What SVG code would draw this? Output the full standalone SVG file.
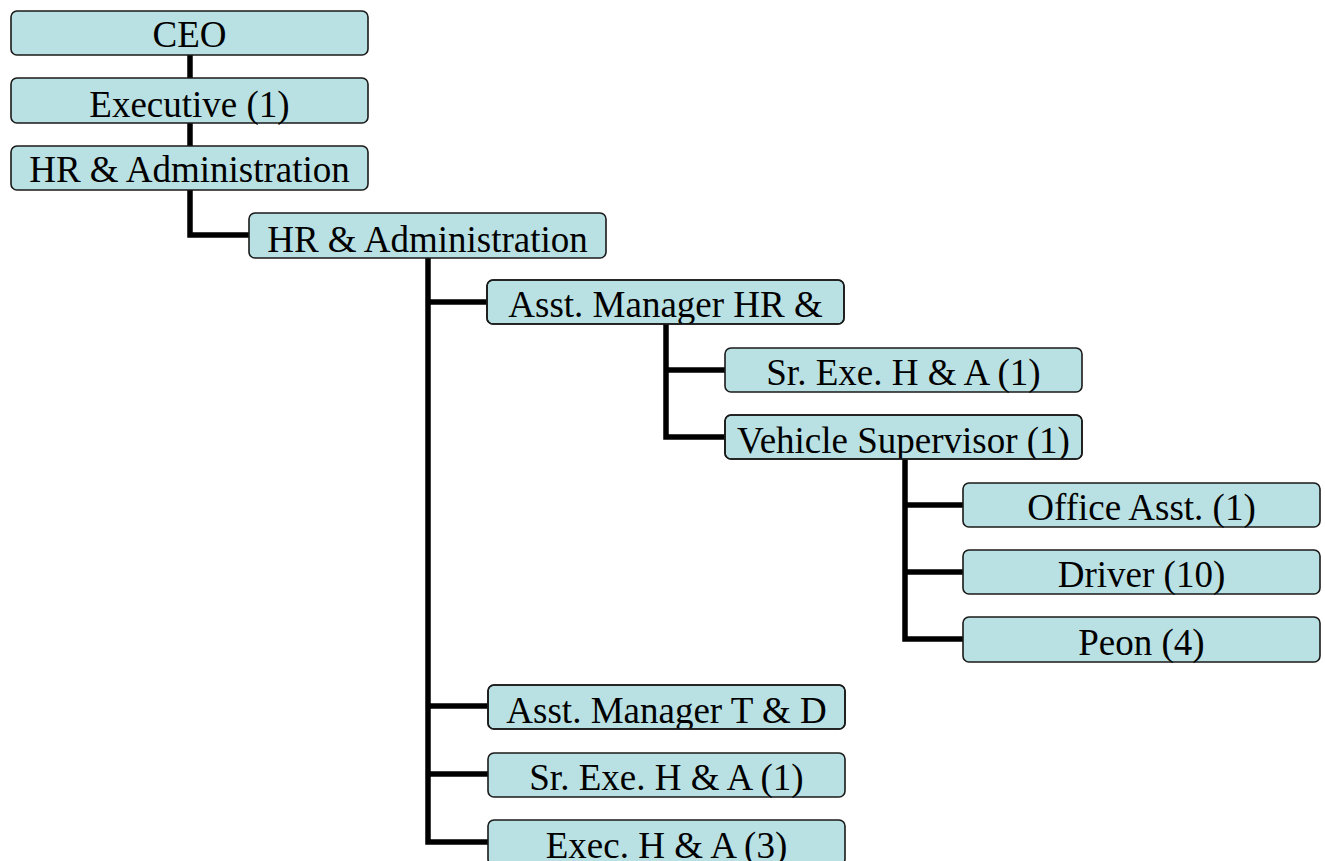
<svg xmlns="http://www.w3.org/2000/svg" width="1325" height="861" viewBox="0 0 1325 861">
<style>
.box{fill:#B9E0E3;stroke:#1a1a1a;stroke-width:1.6}
.lbl{font-family:"Liberation Serif","Times New Roman",serif;font-size:37px;fill:#000;text-anchor:middle}
.conn{fill:none;stroke:#000;stroke-width:5.5;stroke-linejoin:miter;stroke-linecap:butt}
</style>
<defs>
<clipPath id="c1"><rect x="487" y="280" width="357" height="44" rx="6"/></clipPath>
<clipPath id="c2"><rect x="725" y="415" width="357" height="44" rx="6"/></clipPath>
<clipPath id="c3"><rect x="488" y="685" width="357" height="44" rx="6"/></clipPath>
</defs>
<rect width="1325" height="861" fill="#fff"/>
<g id="connectors">
<path class="conn" d="M190 55V78"/>
<path class="conn" d="M190 123V146"/>
<path class="conn" d="M190 190V235H249"/>
<path class="conn" d="M428 257V842H488"/>
<path class="conn" d="M428 302H487"/>
<path class="conn" d="M428 706H488"/>
<path class="conn" d="M428 774H488"/>
<path class="conn" d="M666 324V437H725"/>
<path class="conn" d="M666 370H725"/>
<path class="conn" d="M905 459V639H963"/>
<path class="conn" d="M905 505H963"/>
<path class="conn" d="M905 572H963"/>
</g>
<g id="n-ceo"><rect class="box" x="11" y="11" width="357" height="44" rx="6"/><text class="lbl" x="189.5" y="47">CEO</text></g>
<g id="n-exec"><rect class="box" x="11" y="78" width="357" height="45" rx="6"/><text class="lbl" x="189.5" y="117">Executive (1)</text></g>
<g id="n-hr1"><rect class="box" x="11" y="146" width="357" height="44" rx="6"/><text class="lbl" x="189.5" y="182">HR &amp; Administration</text></g>
<g id="n-hr2"><rect class="box" x="249" y="213" width="357" height="45" rx="6"/><text class="lbl" x="427.5" y="252">HR &amp; Administration</text></g>
<g id="n-asst-hr"><rect class="box" x="487" y="280" width="357" height="44" rx="6"/><text class="lbl" x="665.5" y="317" clip-path="url(#c1)">Asst. Manager HR &amp;</text><rect x="487" y="280" width="357" height="44" rx="6" fill="none" stroke="#1a1a1a" stroke-width="1.6"/></g>
<g id="n-srexe-a"><rect class="box" x="725" y="348" width="357" height="44" rx="6"/><text class="lbl" x="903.5" y="385">Sr. Exe. H &amp; A (1)</text></g>
<g id="n-vehicle"><rect class="box" x="725" y="415" width="357" height="44" rx="6"/><text class="lbl" x="903.5" y="453" clip-path="url(#c2)">Vehicle Supervisor (1)</text><rect x="725" y="415" width="357" height="44" rx="6" fill="none" stroke="#1a1a1a" stroke-width="1.6"/></g>
<g id="n-office"><rect class="box" x="963" y="483" width="357" height="44" rx="6"/><text class="lbl" x="1141.5" y="520">Office Asst. (1)</text></g>
<g id="n-driver"><rect class="box" x="963" y="550" width="357" height="44" rx="6"/><text class="lbl" x="1141.5" y="587">Driver (10)</text></g>
<g id="n-peon"><rect class="box" x="963" y="617" width="357" height="45" rx="6"/><text class="lbl" x="1141.5" y="655">Peon (4)</text></g>
<g id="n-asst-td"><rect class="box" x="488" y="685" width="357" height="44" rx="6"/><text class="lbl" x="666.5" y="723" clip-path="url(#c3)">Asst. Manager T &amp; D</text><rect x="488" y="685" width="357" height="44" rx="6" fill="none" stroke="#1a1a1a" stroke-width="1.6"/></g>
<g id="n-srexe-b"><rect class="box" x="488" y="753" width="357" height="44" rx="6"/><text class="lbl" x="666.5" y="790">Sr. Exe. H &amp; A (1)</text></g>
<g id="n-exec-ha"><rect class="box" x="488" y="820" width="357" height="45" rx="6"/><text class="lbl" x="666.5" y="858">Exec. H &amp; A (3)</text></g>
</svg>
